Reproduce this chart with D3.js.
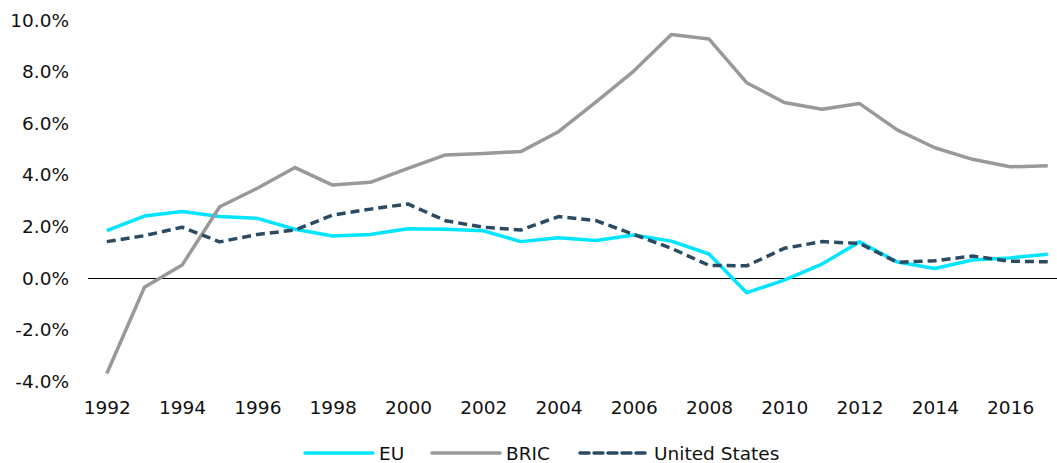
<!DOCTYPE html>
<html>
<head>
<meta charset="utf-8">
<script src="https://cdn.jsdelivr.net/npm/d3@7"></script>
<style>
  body { margin: 0; background: #fff; }
  svg { display: block; font-family: "DejaVu Sans", Verdana, sans-serif; }
</style>
</head>
<body>
<svg id="chart" width="1057" height="463"></svg>
<script>
// years on the x axis
const years = d3.range(1992, 2018);

// growth rates, in percent
const eu = [1.84, 2.40, 2.58, 2.38, 2.31, 1.89, 1.63, 1.69, 1.91, 1.89, 1.83, 1.41, 1.56,
            1.45, 1.67, 1.43, 0.93, -0.57, -0.08, 0.54, 1.40, 0.62, 0.37, 0.70, 0.78, 0.92];
const bric = [-3.70, -0.36, 0.50, 2.76, 3.48, 4.28, 3.60, 3.71, 4.25, 4.77, 4.83, 4.90, 5.67,
              6.83, 8.02, 9.44, 9.26, 7.57, 6.80, 6.54, 6.76, 5.74, 5.05, 4.60, 4.31, 4.35];
const us = [1.41, 1.64, 1.97, 1.40, 1.69, 1.86, 2.44, 2.67, 2.87, 2.22, 1.97, 1.86, 2.38,
            2.22, 1.69, 1.15, 0.49, 0.47, 1.15, 1.41, 1.34, 0.61, 0.67, 0.85, 0.65, 0.63];

const yTicks = [-4, -2, 0, 2, 4, 6, 8, 10];
const xTicks = d3.range(1992, 2018, 2);

const series = [
  { name: "EU", values: eu, color: "#00e5ff", dash: null },
  { name: "BRIC", values: bric, color: "#999999", dash: null },
  { name: "United States", values: us, color: "#2b4b62", dash: "9,5" }
];

const svg = d3.select("#chart");

const x = d3.scalePoint()
  .domain(years)
  .range([88, 1066.6])
  .padding(0.5);

const y = d3.scaleLinear()
  .domain([-4, 10])
  .range([381.2, 20]);

// y labels
svg.append("g")
  .selectAll("text")
  .data(yTicks)
  .enter()
  .append("text")
  .attr("x", 69)
  .attr("y", d => y(d))
  .attr("dy", "0.36em")
  .attr("text-anchor", "end")
  .style("font-size", "18.5px")
  .style("fill", "#111")
  .text(d => d.toFixed(1) + "%");

// x labels
const xAxis = svg.append("g")
  .attr("transform", `translate(0, ${y(-4)})`)
  .call(d3.axisBottom(x).tickValues(xTicks).tickSize(0).tickPadding(20));
xAxis.select(".domain").remove();
xAxis.selectAll("text")
  .style("font-size", "18.5px")
  .style("font-family", "DejaVu Sans, Verdana, sans-serif")
  .style("fill", "#111");

// zero line
svg.append("line")
  .attr("x1", 88)
  .attr("x2", 1066)
  .attr("y1", Math.round(y(0)) + 0.5)
  .attr("y2", Math.round(y(0)) + 0.5)
  .style("stroke", "#000")
  .style("stroke-width", 1)
  .style("shape-rendering", "crispEdges");

const line = d3.line()
  .x((d, i) => x(years[i]))
  .y(d => y(d));

svg.append("g")
  .selectAll("path")
  .data(series)
  .enter()
  .append("path")
  .attr("d", d => line(d.values))
  .style("fill", "none")
  .style("stroke", d => d.color)
  .style("stroke-width", 3.5)
  .style("stroke-linejoin", "round")
  .style("stroke-dasharray", d => d.dash);

// legend
const legendX = [305, 432, 580];
const leg = svg.append("g")
  .selectAll(".leg")
  .data(series)
  .enter()
  .append("g")
  .attr("class", "leg")
  .attr("transform", (d, i) => `translate(${legendX[i]}, 453)`);

leg.append("line")
  .attr("x1", 0)
  .attr("x2", 68)
  .style("stroke", d => d.color)
  .style("stroke-width", 3.5)
  .style("stroke-linecap", "round")
  .style("stroke-dasharray", d => d.dash);

leg.append("text")
  .attr("x", 74)
  .attr("dy", "0.36em")
  .style("font-size", "18.5px")
  .style("fill", "#111")
  .text(d => d.name);
</script>
</body>
</html>
